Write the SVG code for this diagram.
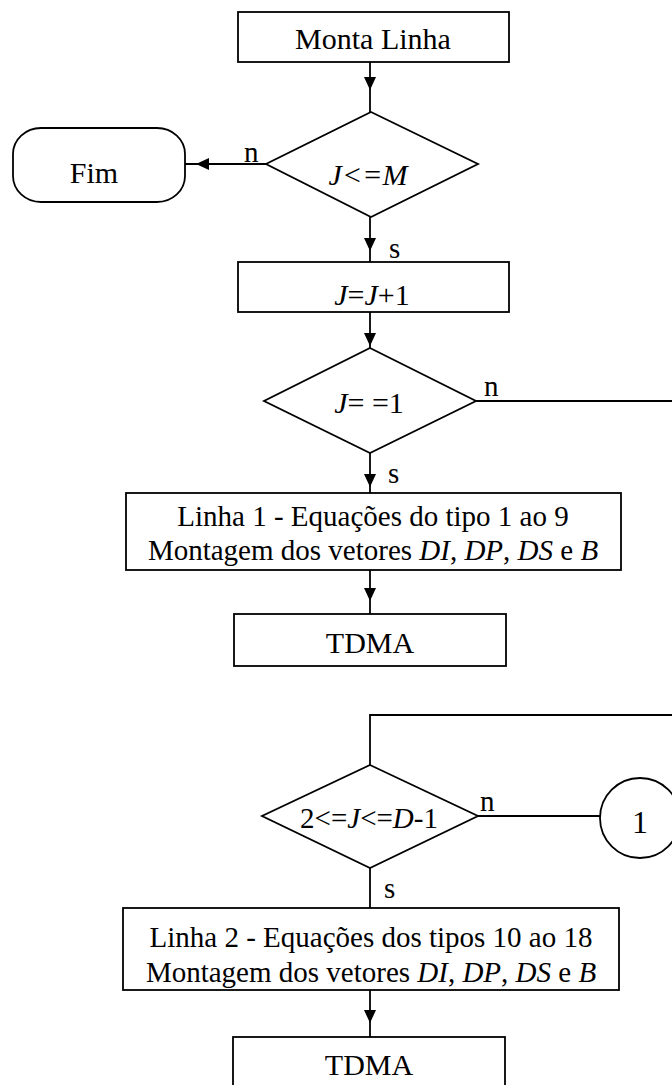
<svg xmlns="http://www.w3.org/2000/svg" width="672" height="1085" viewBox="0 0 672 1085">
  <style>
    .shape { fill: #fff; stroke: #000; stroke-width: 1.8; }
    .link { fill: none; stroke: #000; stroke-width: 1.8; }
    .arrow { marker-mid: url(#head); }
    text { font-family: "Liberation Serif", "Times New Roman", serif; font-size: 29px; fill: #000; }
    .big { font-size: 30px; }
    .mid { text-anchor: middle; }
    .it { font-style: italic; }
  </style>
  <defs>
    <marker id="head" markerUnits="userSpaceOnUse" markerWidth="14" markerHeight="12" refX="13" refY="6" orient="auto">
      <path d="M0,0 L13,6 L0,12 z" fill="#000"/>
    </marker>
  </defs>

  <rect width="672" height="1085" fill="#fff"/>

  <!-- connectors -->
  <g id="connectors">
    <path class="link arrow" d="M370,62 L370,90 L370,112"/>
    <path class="link arrow" d="M266,164 L196,164 L185,164"/>
    <path class="link arrow" d="M370,217 L370,251 L370,262"/>
    <path class="link arrow" d="M370,312 L370,346 L370,348"/>
    <path class="link" d="M476,401 L672,401"/>
    <path class="link arrow" d="M370,453 L370,487 L370,493"/>
    <path class="link arrow" d="M370,570 L370,601 L370,614"/>
    <path class="link" d="M672,715 L370,715 L370,765"/>
    <path class="link" d="M478,816 L600,816"/>
    <path class="link" d="M370,868 L370,908"/>
    <path class="link arrow" d="M370,990 L370,1023 L370,1037"/>
    <text x="244" y="162">n</text>
    <text x="389" y="258">s</text>
    <text x="484" y="396">n</text>
    <text x="388" y="483">s</text>
    <text x="480" y="811">n</text>
    <text x="384" y="898">s</text>
  </g>

  <g id="monta-linha">
    <rect class="shape" x="238" y="12" width="271" height="50"/>
    <text class="mid big" x="373" y="49">Monta Linha</text>
  </g>

  <g id="fim">
    <rect class="shape" x="13" y="128" width="172" height="74" rx="28" ry="26"/>
    <text class="mid big" x="94" y="183">Fim</text>
  </g>

  <g id="teste-m">
    <polygon class="shape" points="371,112 478,164 371,217 266,164"/>
    <text class="mid it big" x="368" y="185">J&lt;=M</text>
  </g>

  <g id="incremento">
    <rect class="shape" x="238" y="262" width="271" height="50"/>
    <text class="mid big" x="372" y="305"><tspan class="it">J</tspan>=<tspan class="it">J</tspan>+1</text>
  </g>

  <g id="teste-1">
    <polygon class="shape" points="370,348 476,401 370,453 264,401"/>
    <text class="mid big" x="369" y="413"><tspan class="it">J</tspan>= =1</text>
  </g>

  <g id="linha-1">
    <rect class="shape" x="126" y="493" width="495" height="77"/>
    <text class="mid" x="373" y="526">Linha 1 - Equações do tipo 1 ao 9</text>
    <text class="mid" x="373" y="560">Montagem dos vetores <tspan class="it">DI</tspan>, <tspan class="it">DP</tspan>, <tspan class="it">DS</tspan> e <tspan class="it">B</tspan></text>
  </g>

  <g id="tdma-1">
    <rect class="shape" x="234" y="614" width="272" height="52"/>
    <text class="mid big" x="370" y="653">TDMA</text>
  </g>

  <g id="teste-d">
    <polygon class="shape" points="370,765 478,816 370,868 262,816"/>
    <text class="mid" x="369" y="828">2&lt;=<tspan class="it">J</tspan>&lt;=<tspan class="it">D</tspan>-1</text>
  </g>

  <g id="conector-1">
    <circle class="shape" cx="640" cy="818" r="40"/>
    <text class="mid" x="640" y="833" style="font-size:32px">1</text>
  </g>

  <g id="linha-2">
    <rect class="shape" x="123" y="908" width="496" height="82"/>
    <text class="mid" x="371" y="947">Linha 2 - Equações dos tipos 10 ao 18</text>
    <text class="mid" x="371" y="982">Montagem dos vetores <tspan class="it">DI</tspan>, <tspan class="it">DP</tspan>, <tspan class="it">DS</tspan> e <tspan class="it">B</tspan></text>
  </g>

  <g id="tdma-2">
    <rect class="shape" x="233" y="1037" width="272" height="60"/>
    <text class="mid big" x="369" y="1075">TDMA</text>
  </g>
</svg>
